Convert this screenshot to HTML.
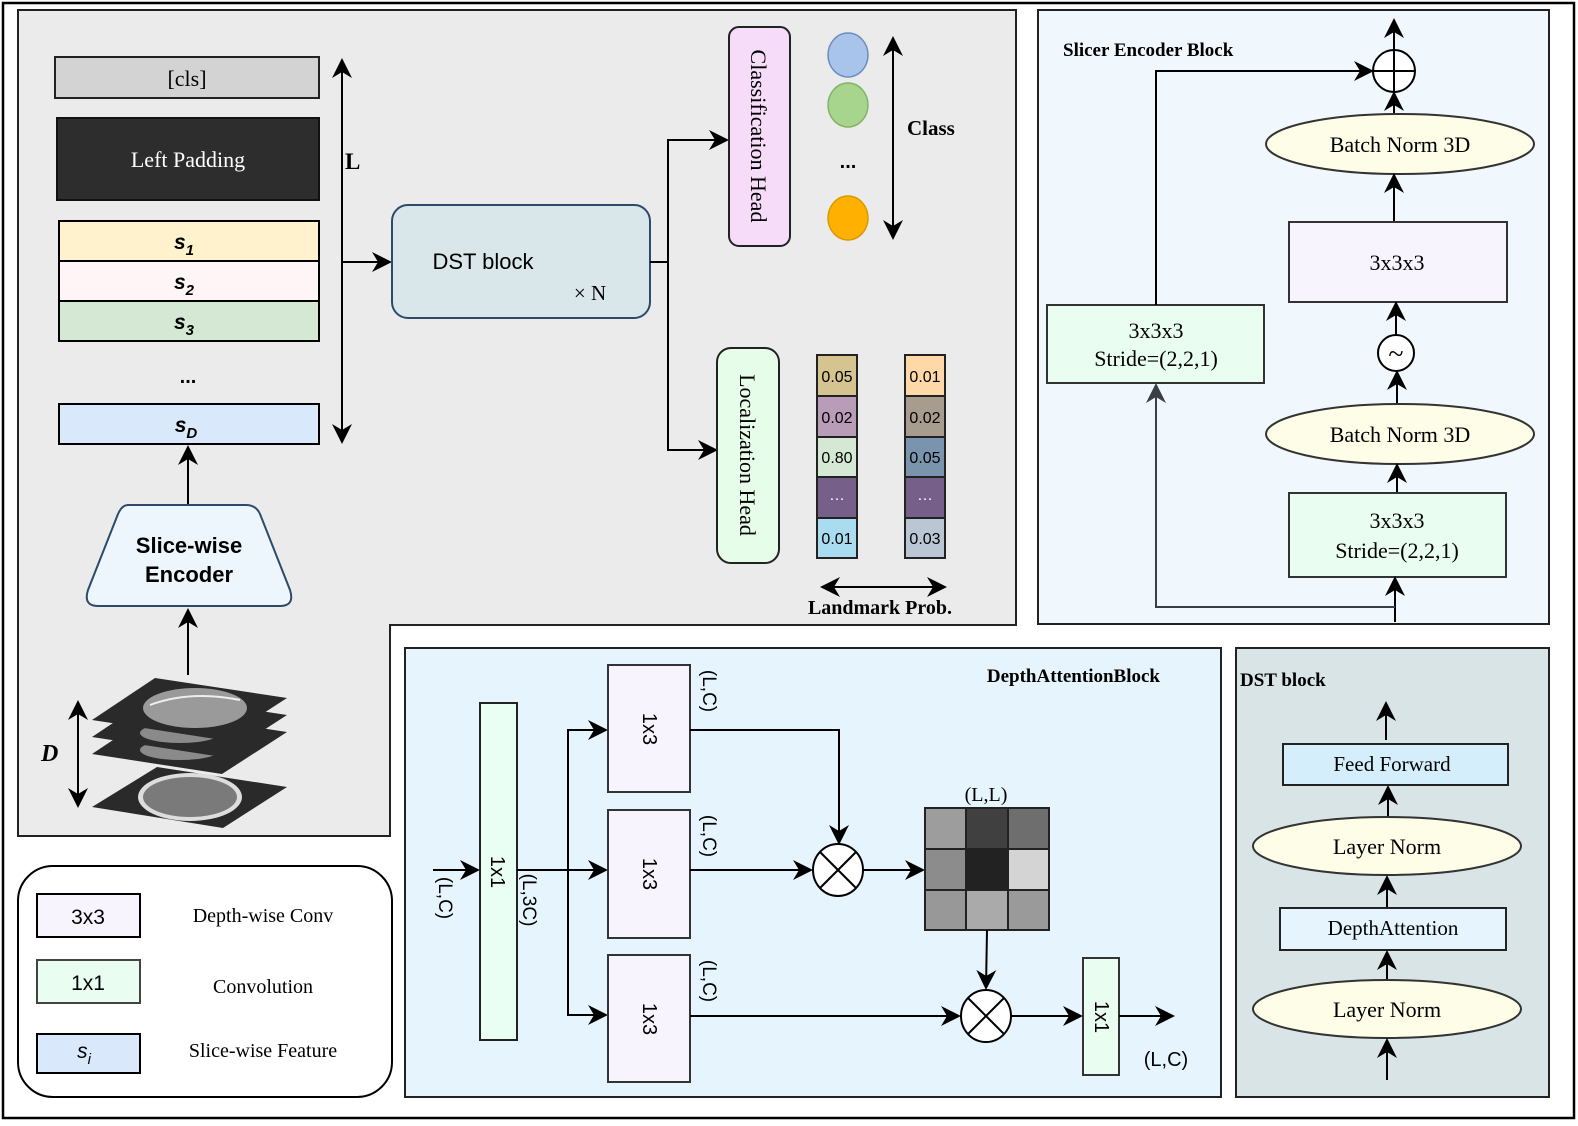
<!DOCTYPE html>
<html><head><meta charset="utf-8"><style>
body{margin:0;background:#fff}
svg{display:block}
.s{font-family:"Liberation Serif",serif}
.a{font-family:"Liberation Sans",sans-serif}
</style></head><body>
<svg width="1578" height="1126" viewBox="0 0 1578 1126" xmlns="http://www.w3.org/2000/svg">
<defs>
<marker id="ar2" viewBox="0 0 10 10" refX="9" refY="5" markerWidth="20" markerHeight="20" orient="auto-start-reverse" markerUnits="userSpaceOnUse"><path d="M0,0 L10,5 L0,10 L3,5 Z" fill="#000"/></marker>
<marker id="ar3" viewBox="0 0 10 10" refX="9" refY="5" markerWidth="20" markerHeight="20" orient="auto-start-reverse" markerUnits="userSpaceOnUse"><path d="M0,0 L10,5 L0,10 L3,5 Z" fill="#3a3f47"/></marker>
</defs>
<rect x="3" y="3" width="1571" height="1115" fill="#fff" stroke="#000" stroke-width="2.5"/>
<path d="M18,10 H1016 V625 H390 V836 H18 Z" fill="#ebebeb" stroke="#222" stroke-width="2"/>
<rect x="55" y="57" width="264" height="41" fill="#d3d3d3" stroke="#222" stroke-width="2"/>
<text x="187" y="86" class="s" font-size="22" text-anchor="middle">[cls]</text>
<rect x="57" y="118" width="262" height="82" fill="#2d2d2d" stroke="#111" stroke-width="2"/>
<text x="188" y="167" class="s" font-size="22" fill="#fff" text-anchor="middle">Left Padding</text>
<rect x="59" y="221" width="260" height="40" fill="#fff2cc" stroke="#000" stroke-width="2"/>
<rect x="59" y="261" width="260" height="40" fill="#fff5f7" stroke="#000" stroke-width="2"/>
<rect x="59" y="301" width="260" height="40" fill="#d5e8d4" stroke="#000" stroke-width="2"/>
<rect x="59" y="404" width="260" height="40" fill="#dae8fc" stroke="#000" stroke-width="2"/>
<g class="a" font-weight="bold" font-style="italic" text-anchor="middle">
<text x="184" y="249" font-size="21">s<tspan font-size="15" dy="6">1</tspan></text>
<text x="184" y="289" font-size="21">s<tspan font-size="15" dy="6">2</tspan></text>
<text x="184" y="329" font-size="21">s<tspan font-size="15" dy="6">3</tspan></text>
<text x="186" y="432" font-size="21">s<tspan font-size="15" dy="6">D</tspan></text>
</g>
<text x="188" y="383" class="a" font-weight="bold" font-size="20" text-anchor="middle">...</text>
<line x1="342" y1="60" x2="342" y2="442" stroke="#000" stroke-width="2" marker-start="url(#ar2)" marker-end="url(#ar2)"/>
<text x="345" y="169" class="s" font-weight="bold" font-size="23">L</text>
<line x1="342" y1="262" x2="390" y2="262" stroke="#000" stroke-width="2" marker-end="url(#ar2)"/>
<rect x="392" y="205" width="258" height="113" rx="16" fill="#dae7ea" stroke="#2c4a6a" stroke-width="2"/>
<text x="483" y="269" class="a" font-size="22" text-anchor="middle">DST block</text>
<text x="590" y="300" class="s" font-size="21" text-anchor="middle">× N</text>
<polyline points="650,262 668,262 668,140 727,140" fill="none" stroke="#000" stroke-width="2" marker-end="url(#ar2)"/>
<polyline points="668,262 668,450 716,450" fill="none" stroke="#000" stroke-width="2" marker-end="url(#ar2)"/>
<rect x="729" y="27" width="61" height="219" rx="10" fill="#f6dcf8" stroke="#222" stroke-width="2"/>
<text transform="translate(751,136) rotate(90)" class="s" font-size="22" text-anchor="middle">Classification Head</text>
<rect x="717" y="348" width="62" height="215" rx="14" fill="#e6fde9" stroke="#222" stroke-width="2"/>
<text transform="translate(740,455) rotate(90)" class="s" font-size="22" text-anchor="middle">Localization Head</text>
<ellipse cx="848" cy="55" rx="20" ry="22" fill="#a9c4eb" stroke="#6c8ebf" stroke-width="1.5"/>
<ellipse cx="848" cy="105" rx="20" ry="22" fill="#a7d58e" stroke="#82b366" stroke-width="1.5"/>
<text x="848" y="168" class="a" font-weight="bold" font-size="20" text-anchor="middle">...</text>
<ellipse cx="848" cy="218" rx="20" ry="22" fill="#ffb000" stroke="#d79b00" stroke-width="1.5"/>
<line x1="893" y1="38" x2="893" y2="238" stroke="#000" stroke-width="2" marker-start="url(#ar2)" marker-end="url(#ar2)"/>
<text x="907" y="135" class="s" font-weight="bold" font-size="21">Class</text>
<g stroke="#222" stroke-width="2">
<rect x="817" y="355" width="40" height="41" fill="#d5c48f"/><rect x="817" y="396" width="40" height="41" fill="#b99cb8"/><rect x="817" y="437" width="40" height="40" fill="#d5e8d4"/><rect x="817" y="477" width="40" height="41" fill="#76608a"/><rect x="817" y="518" width="40" height="40" fill="#a9dcef"/>
<rect x="905" y="355" width="40" height="41" fill="#ffd8a8"/><rect x="905" y="396" width="40" height="41" fill="#a89c8e"/><rect x="905" y="437" width="40" height="40" fill="#7a94ad"/><rect x="905" y="477" width="40" height="41" fill="#76608a"/><rect x="905" y="518" width="40" height="40" fill="#b9c7d4"/>
</g>
<g class="a" font-size="16" text-anchor="middle">
<text x="837" y="382">0.05</text><text x="837" y="423">0.02</text><text x="837" y="463">0.80</text><text x="837" y="500" fill="#fff">…</text><text x="837" y="544">0.01</text>
<text x="925" y="382">0.01</text><text x="925" y="423">0.02</text><text x="925" y="463">0.05</text><text x="925" y="500" fill="#fff">…</text><text x="925" y="544">0.03</text>
</g>
<line x1="822" y1="587" x2="945" y2="587" stroke="#000" stroke-width="2" marker-start="url(#ar2)" marker-end="url(#ar2)"/>
<text x="880" y="614" class="s" font-weight="bold" font-size="20" text-anchor="middle">Landmark Prob.</text>
<line x1="188" y1="505" x2="188" y2="447" stroke="#000" stroke-width="2" marker-end="url(#ar2)"/>
<path d="M128,505 H246 Q256,505 260,514 L290,590 Q295,606 280,606 H98 Q83,606 88,590 L118,514 Q122,505 128,505 Z" fill="#eef6fd" stroke="#2c4a6a" stroke-width="2"/>
<text x="189" y="553" class="a" font-weight="bold" font-size="22" text-anchor="middle">Slice-wise</text>
<text x="189" y="582" class="a" font-weight="bold" font-size="22" text-anchor="middle">Encoder</text>
<line x1="188" y1="675" x2="188" y2="610" stroke="#000" stroke-width="2" marker-end="url(#ar2)"/>
<g>
<polygon points="92,807 157,767 287,787 223,828" fill="#2a2a2a"/>
<ellipse cx="190" cy="797" rx="52" ry="24" fill="#ddd"/><ellipse cx="190" cy="797" rx="47" ry="20" fill="#7a7a7a"/>
<polygon points="92,754 155,712 287,732 222,774" fill="#2a2a2a"/>
<ellipse cx="180" cy="750" rx="40" ry="10" fill="#8a8a8a"/>
<polygon points="92,737 155,695 287,715 222,757" fill="#2a2a2a"/>
<ellipse cx="180" cy="733" rx="40" ry="10" fill="#8a8a8a"/>
<polygon points="92,720 155,678 287,698 222,740" fill="#2a2a2a"/>
<ellipse cx="195" cy="708" rx="52" ry="20" fill="#9a9a9a"/>
<path d="M150,705 Q190,690 240,700" fill="none" stroke="#eee" stroke-width="2"/>
</g>
<line x1="78" y1="702" x2="78" y2="806" stroke="#000" stroke-width="2" marker-start="url(#ar2)" marker-end="url(#ar2)"/>
<text x="41" y="761" class="s" font-weight="bold" font-style="italic" font-size="24">D</text>
<rect x="18" y="866" width="374" height="231" rx="35" fill="#fff" stroke="#000" stroke-width="2"/>
<rect x="37" y="894" width="103" height="43" fill="#f8f4fd" stroke="#000" stroke-width="2"/>
<text x="88" y="924" class="a" font-size="21" text-anchor="middle">3x3</text>
<text x="263" y="922" class="s" font-size="20" text-anchor="middle">Depth-wise Conv</text>
<rect x="37" y="960" width="103" height="43" fill="#e9fdf1" stroke="#444" stroke-width="2"/>
<text x="88" y="990" class="a" font-size="21" text-anchor="middle">1x1</text>
<text x="263" y="993" class="s" font-size="20" text-anchor="middle">Convolution</text>
<rect x="37" y="1034" width="103" height="39" fill="#dae8fc" stroke="#000" stroke-width="2"/>
<text x="84" y="1058" class="a" font-style="italic" font-size="21" text-anchor="middle">s<tspan font-size="15" dy="6">i</tspan></text>
<text x="263" y="1057" class="s" font-size="20" text-anchor="middle">Slice-wise Feature</text>
<rect x="1038" y="10" width="511" height="614" fill="#f0f7fd" stroke="#222" stroke-width="2"/>
<text x="1063" y="56" class="s" font-weight="bold" font-size="19">Slicer Encoder Block</text>
<line x1="1394" y1="50" x2="1394" y2="20" stroke="#000" stroke-width="2" marker-end="url(#ar2)"/>
<circle cx="1394" cy="71" r="21" fill="#fff" stroke="#000" stroke-width="2"/>
<line x1="1373" y1="71" x2="1415" y2="71" stroke="#000" stroke-width="2"/><line x1="1394" y1="50" x2="1394" y2="92" stroke="#000" stroke-width="2"/>
<line x1="1394" y1="118" x2="1394" y2="93" stroke="#000" stroke-width="2" marker-end="url(#ar2)"/>
<ellipse cx="1400" cy="144" rx="134" ry="30" fill="#fdfde8" stroke="#333" stroke-width="2"/>
<text x="1400" y="152" class="s" font-size="22" text-anchor="middle">Batch Norm 3D</text>
<line x1="1394" y1="222" x2="1394" y2="175" stroke="#000" stroke-width="2" marker-end="url(#ar2)"/>
<rect x="1289" y="222" width="218" height="80" fill="#f8f4fd" stroke="#333" stroke-width="2"/>
<text x="1397" y="270" class="s" font-size="22" text-anchor="middle">3x3x3</text>
<line x1="1396" y1="334" x2="1396" y2="303" stroke="#000" stroke-width="2" marker-end="url(#ar2)"/>
<circle cx="1396" cy="353" r="18" fill="#fff" stroke="#000" stroke-width="2"/>
<text x="1396" y="363" class="s" font-size="28" text-anchor="middle">~</text>
<line x1="1397" y1="405" x2="1397" y2="372" stroke="#000" stroke-width="2" marker-end="url(#ar2)"/>
<ellipse cx="1400" cy="434" rx="134" ry="30" fill="#fdfde8" stroke="#333" stroke-width="2"/>
<text x="1400" y="442" class="s" font-size="22" text-anchor="middle">Batch Norm 3D</text>
<line x1="1397" y1="493" x2="1397" y2="465" stroke="#000" stroke-width="2" marker-end="url(#ar2)"/>
<rect x="1289" y="493" width="217" height="84" fill="#e9fdf1" stroke="#333" stroke-width="2"/>
<text x="1397" y="528" class="s" font-size="22" text-anchor="middle">3x3x3</text>
<text x="1397" y="558" class="s" font-size="22" text-anchor="middle">Stride=(2,2,1)</text>
<line x1="1395" y1="622" x2="1395" y2="578" stroke="#000" stroke-width="2" marker-end="url(#ar2)"/>
<polyline points="1395,607 1156,607 1156,385" fill="none" stroke="#3a3f47" stroke-width="2" marker-end="url(#ar3)"/>
<rect x="1047" y="305" width="217" height="78" fill="#e9fdf1" stroke="#333" stroke-width="2"/>
<text x="1156" y="338" class="s" font-size="22" text-anchor="middle">3x3x3</text>
<text x="1156" y="366" class="s" font-size="22" text-anchor="middle">Stride=(2,2,1)</text>
<polyline points="1156,305 1156,71 1372,71" fill="none" stroke="#000" stroke-width="2" marker-end="url(#ar2)"/>
<rect x="405" y="648" width="816" height="449" fill="#e6f5fd" stroke="#222" stroke-width="2"/>
<text x="1160" y="682" class="s" font-weight="bold" font-size="19" text-anchor="end">DepthAttentionBlock</text>
<line x1="433" y1="870" x2="478" y2="870" stroke="#000" stroke-width="2" marker-end="url(#ar2)"/>
<text transform="translate(439,898) rotate(90)" class="a" font-size="19" text-anchor="middle">(L,C)</text>
<rect x="480" y="703" width="37" height="337" fill="#eafff3" stroke="#222" stroke-width="2"/>
<text transform="translate(491,872) rotate(90)" class="a" font-size="20" text-anchor="middle">1x1</text>
<text transform="translate(523,900) rotate(90)" class="a" font-size="19" text-anchor="middle">(L,3C)</text>
<polyline points="517,870 606,870" fill="none" stroke="#000" stroke-width="2" marker-end="url(#ar2)"/>
<polyline points="606,730 568,730 568,1015 606,1015" fill="none" stroke="#000" stroke-width="2" marker-start="url(#ar2)" marker-end="url(#ar2)"/>
<g fill="#f8f4fd" stroke="#333" stroke-width="2">
<rect x="608" y="665" width="82" height="127"/><rect x="608" y="810" width="82" height="128"/><rect x="608" y="955" width="82" height="127"/>
</g>
<g class="a" font-size="20" text-anchor="middle">
<text transform="translate(643,729) rotate(90)">1x3</text>
<text transform="translate(643,874) rotate(90)">1x3</text>
<text transform="translate(643,1019) rotate(90)">1x3</text>
</g>
<g class="a" font-size="19" text-anchor="middle">
<text transform="translate(703,691) rotate(90)">(L,C)</text>
<text transform="translate(703,836) rotate(90)">(L,C)</text>
<text transform="translate(703,981) rotate(90)">(L,C)</text>
</g>
<polyline points="690,730 839,730 839,843" fill="none" stroke="#000" stroke-width="2" marker-end="url(#ar2)"/>
<line x1="690" y1="870" x2="811" y2="870" stroke="#000" stroke-width="2" marker-end="url(#ar2)"/>
<g fill="#fff" stroke="#000" stroke-width="2">
<ellipse cx="838" cy="870" rx="25" ry="26"/>
<ellipse cx="986" cy="1016" rx="25" ry="26"/>
</g>
<g stroke="#000" stroke-width="2">
<line x1="820" y1="852" x2="856" y2="888"/><line x1="856" y1="852" x2="820" y2="888"/>
<line x1="968" y1="998" x2="1004" y2="1034"/><line x1="1004" y1="998" x2="968" y2="1034"/>
</g>
<line x1="863" y1="870" x2="923" y2="870" stroke="#000" stroke-width="2" marker-end="url(#ar2)"/>
<text x="986" y="801" class="s" font-size="20" text-anchor="middle">(L,L)</text>
<g stroke="#222" stroke-width="2">
<rect x="925" y="808" width="41" height="41" fill="#9d9d9d"/><rect x="966" y="808" width="42" height="41" fill="#404040"/><rect x="1008" y="808" width="41" height="41" fill="#6e6e6e"/>
<rect x="925" y="849" width="41" height="41" fill="#8c8c8c"/><rect x="966" y="849" width="42" height="41" fill="#222"/><rect x="1008" y="849" width="41" height="41" fill="#d4d4d4"/>
<rect x="925" y="890" width="41" height="40" fill="#989898"/><rect x="966" y="890" width="42" height="40" fill="#aaa"/><rect x="1008" y="890" width="41" height="40" fill="#9a9a9a"/>
</g>
<line x1="987" y1="930" x2="986" y2="988" stroke="#000" stroke-width="2" marker-end="url(#ar2)"/>
<line x1="690" y1="1016" x2="959" y2="1016" stroke="#000" stroke-width="2" marker-end="url(#ar2)"/>
<line x1="1011" y1="1016" x2="1081" y2="1016" stroke="#000" stroke-width="2" marker-end="url(#ar2)"/>
<rect x="1083" y="958" width="36" height="117" fill="#e9fdf1" stroke="#333" stroke-width="2"/>
<text transform="translate(1095,1017) rotate(90)" class="a" font-size="20" text-anchor="middle">1x1</text>
<line x1="1119" y1="1016" x2="1173" y2="1016" stroke="#000" stroke-width="2" marker-end="url(#ar2)"/>
<text x="1166" y="1066" class="a" font-size="20" text-anchor="middle">(L,C)</text>
<rect x="1236" y="648" width="313" height="449" fill="#d8e4e6" stroke="#222" stroke-width="2"/>
<text x="1240" y="686" class="s" font-weight="bold" font-size="19">DST block</text>
<line x1="1386" y1="740" x2="1386" y2="703" stroke="#000" stroke-width="2" marker-end="url(#ar2)"/>
<rect x="1283" y="744" width="225" height="41" fill="#d4effb" stroke="#222" stroke-width="2"/>
<text x="1392" y="771" class="s" font-size="21" text-anchor="middle">Feed Forward</text>
<line x1="1388" y1="816" x2="1388" y2="787" stroke="#000" stroke-width="2" marker-end="url(#ar2)"/>
<ellipse cx="1387" cy="846" rx="134" ry="29" fill="#fdfde8" stroke="#333" stroke-width="2"/>
<text x="1387" y="854" class="s" font-size="22" text-anchor="middle">Layer Norm</text>
<line x1="1387" y1="907" x2="1387" y2="877" stroke="#000" stroke-width="2" marker-end="url(#ar2)"/>
<rect x="1280" y="908" width="226" height="42" fill="#e6f5fd" stroke="#222" stroke-width="2"/>
<text x="1393" y="935" class="s" font-size="21" text-anchor="middle">DepthAttention</text>
<line x1="1387" y1="980" x2="1387" y2="952" stroke="#000" stroke-width="2" marker-end="url(#ar2)"/>
<ellipse cx="1387" cy="1009" rx="134" ry="29" fill="#fdfde8" stroke="#333" stroke-width="2"/>
<text x="1387" y="1017" class="s" font-size="22" text-anchor="middle">Layer Norm</text>
<line x1="1387" y1="1080" x2="1387" y2="1040" stroke="#000" stroke-width="2" marker-end="url(#ar2)"/>
</svg>
</body></html>
